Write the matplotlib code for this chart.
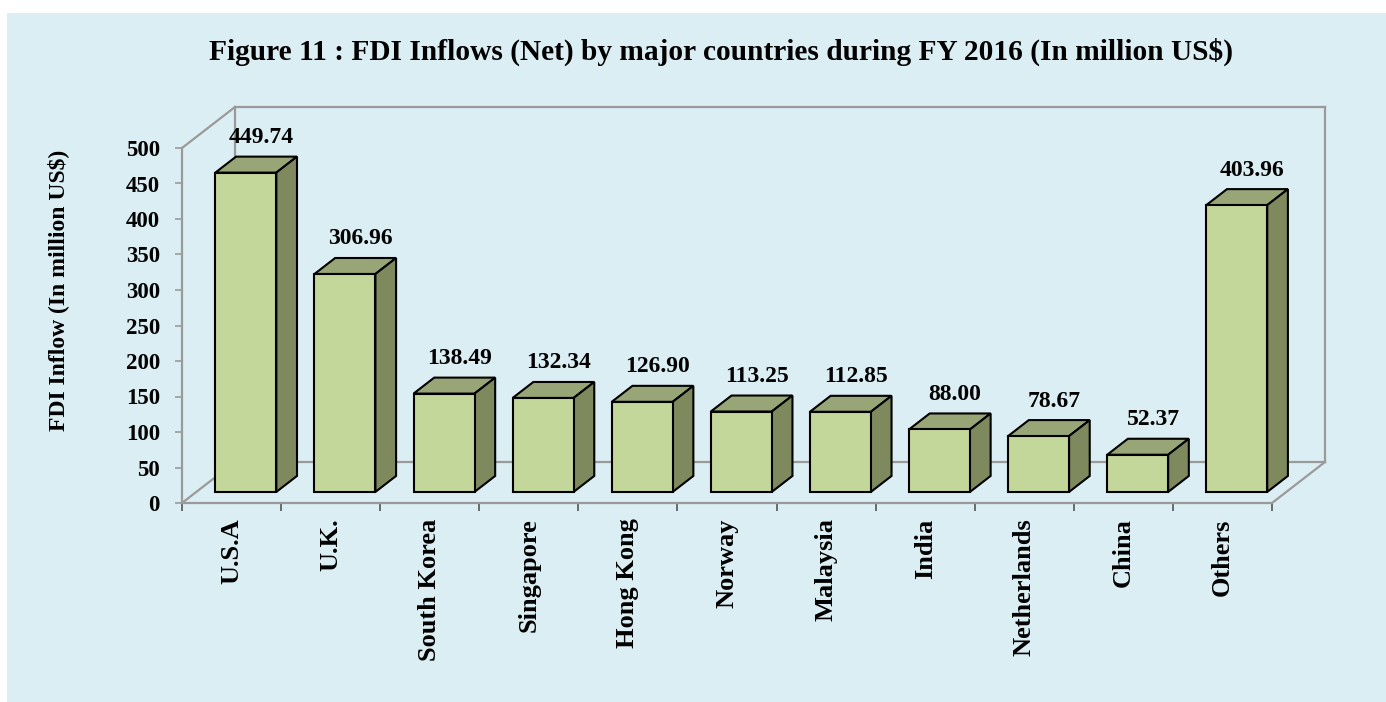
import matplotlib.pyplot as plt
from matplotlib.patches import Polygon, Rectangle

countries = ["U.S.A", "U.K.", "South Korea", "Singapore", "Hong Kong", "Norway",
             "Malaysia", "India", "Netherlands", "China", "Others"]
inflows = [449.74, 306.96, 138.49, 132.34, 126.90, 113.25, 112.85, 88.00, 78.67, 52.37, 403.96]
y_ticks = [0, 50, 100, 150, 200, 250, 300, 350, 400, 450, 500]

W_PX, H_PX = 1386, 702
FRONT_C = "#C4D79B"
TOP_C = "#98A677"
SIDE_C = "#7E8A5E"
BG = "#DBEEF3"
WALL = "#9A9A9A"
FONT = "Liberation Serif"

# pseudo 3D geometry (depth offset of the back wall, in data units)
DX = 53 / 99.1
DY = 41 / 0.71
D0, D1 = 0.27, 0.66
BAR_W = 0.615
YMAX = 500


def proj(x, v, d):
    return (x + d * DX, v + d * DY)


fig = plt.figure(figsize=(W_PX / 100, H_PX / 100), dpi=100)
fig.patch.set_facecolor("white")
fig.patches.append(Rectangle((7 / W_PX, 0), 1 - 7 / W_PX, 1 - 13 / H_PX,
                             transform=fig.transFigure, facecolor=BG,
                             edgecolor="none", zorder=-10))

ax = fig.add_axes([182 / W_PX, (H_PX - 503) / H_PX,
                   (1325 - 182) / W_PX, (503 - 107) / H_PX])
ax.set_facecolor("none")
n = len(countries)
ax.set_xlim(-0.5, n - 0.5 + DX)
ax.set_ylim(0, YMAX + DY)

# walls and floor
x0, x1 = -0.5, n - 0.5
wall_lines = [
    [proj(x0, 0, 0), proj(x0, 0, 1)],
    [proj(x0, YMAX, 0), proj(x0, YMAX, 1)],
    [proj(x0, 0, 1), proj(x0, YMAX, 1)],
    [proj(x0, YMAX, 1), proj(x1, YMAX, 1)],
    [proj(x0, 0, 1), proj(x1, 0, 1)],
    [proj(x1, 0, 1), proj(x1, YMAX, 1)],
    [proj(x1, 0, 0), proj(x1, 0, 1)],
]
for seg in wall_lines:
    ax.plot([seg[0][0], seg[1][0]], [seg[0][1], seg[1][1]], color=WALL,
            lw=1.6, clip_on=False, zorder=1)

# bars
xs = list(range(n))
ax.bar([x + D0 * DX for x in xs], inflows, width=BAR_W, bottom=D0 * DY,
       color=FRONT_C, edgecolor="black", linewidth=1.5, zorder=4)
for x, v in zip(xs, inflows):
    xl = x - BAR_W / 2
    xr = x + BAR_W / 2
    top = [proj(xl, v, D0), proj(xr, v, D0), proj(xr, v, D1), proj(xl, v, D1)]
    side = [proj(xr, 0, D0), proj(xr, v, D0), proj(xr, v, D1), proj(xr, 0, D1)]
    ax.add_patch(Polygon(top, closed=True, facecolor=TOP_C, edgecolor="black",
                         lw=1.5, zorder=3, clip_on=False))
    ax.add_patch(Polygon(side, closed=True, facecolor=SIDE_C, edgecolor="black",
                         lw=1.5, zorder=3, clip_on=False))
    lx, ly = proj(x + 0.3, v, D1)
    ax.text(x + 0.3, ly + 12, f"{v:.2f}", ha="center", va="bottom",
            family=FONT, fontweight="bold", fontsize=17, zorder=5)

# axes
for side in ["top", "right"]:
    ax.spines[side].set_visible(False)
ax.spines["left"].set_bounds(0, YMAX)
ax.spines["bottom"].set_bounds(x0, x1)
for side in ["left", "bottom"]:
    ax.spines[side].set_color(WALL)
    ax.spines[side].set_linewidth(1.6)
ax.set_yticks(y_ticks)
ax.set_yticklabels([str(t) for t in y_ticks], family=FONT, fontweight="bold",
                   fontsize=16.5)
ax.tick_params(axis="y", length=5, width=1.2, color=WALL, pad=11)
ax.set_xticks(xs)
ax.set_xticklabels(countries, rotation=90, family=FONT, fontweight="bold",
                   fontsize=19, va="top", ha="center")
ax.set_xticks([x - 0.5 for x in range(n + 1)], minor=True)
ax.tick_params(axis="x", which="major", length=0, pad=11)
ax.tick_params(axis="x", which="minor", length=6, width=1.2, color="#555555")

fig.text(58 / W_PX, 1 - 290 / H_PX, "FDI Inflow (In million US$)", rotation=90,
         ha="center", va="center", family=FONT, fontweight="bold", fontsize=17)
fig.text(721 / W_PX, 1 - 52 / H_PX,
         "Figure 11 : FDI Inflows (Net) by major countries during FY 2016 (In million US$)",
         ha="center", va="center", family=FONT, fontweight="bold", fontsize=21.2)

fig.savefig("out.png", dpi=100, facecolor=fig.get_facecolor())
